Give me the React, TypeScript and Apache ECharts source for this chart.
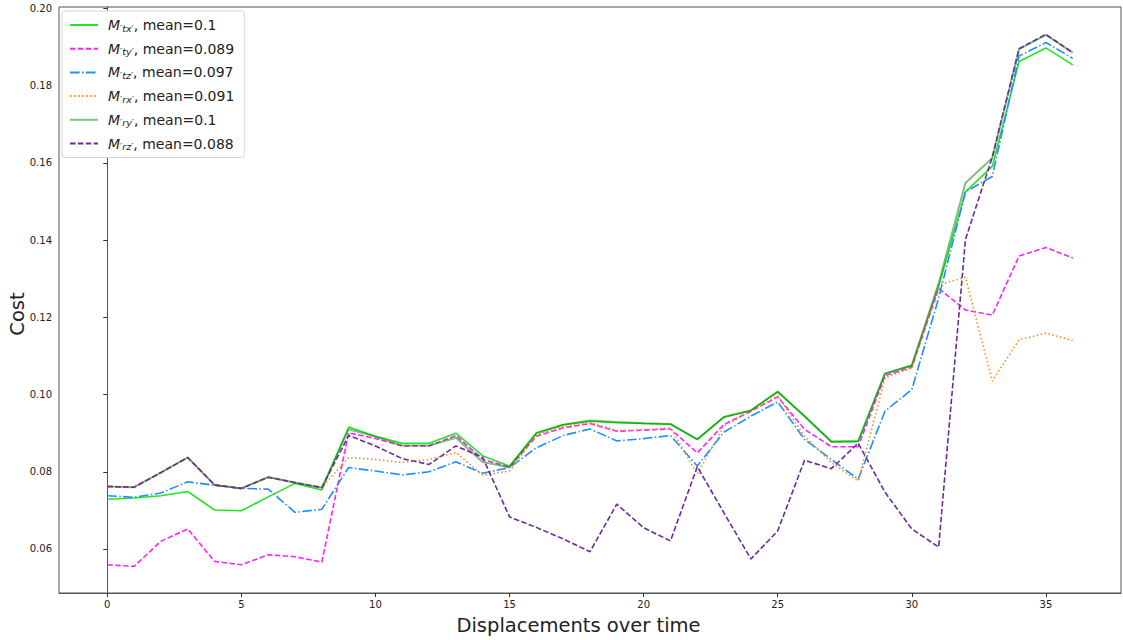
import React, { useEffect, useRef } from "react";
import * as echarts from "echarts";

// Displacement step index
const steps: number[] = Array.from({ length: 37 }, (_, i) => i);

// Cost per displacement for each motion component
const costTx = [0.0729, 0.0732, 0.0738, 0.0749, 0.0701, 0.0699, 0.0735, 0.0770, 0.0753, 0.0916, 0.0892, 0.0874, 0.0874, 0.0900, 0.0841, 0.0815, 0.0901, 0.0922, 0.0931, 0.0927, 0.0925, 0.0923, 0.0884, 0.0942, 0.0959, 0.1007, 0.0944, 0.0878, 0.0878, 0.1054, 0.1075, 0.1280, 0.1525, 0.1591, 0.1863, 0.1898, 0.1854];
const costTy = [0.0559, 0.0555, 0.0620, 0.0652, 0.0568, 0.0559, 0.0585, 0.0580, 0.0566, 0.0901, 0.0886, 0.0867, 0.0867, 0.0894, 0.0832, 0.0812, 0.0892, 0.0914, 0.0925, 0.0905, 0.0908, 0.0911, 0.0849, 0.0923, 0.0957, 0.0994, 0.0910, 0.0865, 0.0865, 0.1049, 0.1071, 0.1275, 0.1219, 0.1206, 0.1359, 0.1381, 0.1354];
const costTz = [0.0738, 0.0734, 0.0745, 0.0774, 0.0765, 0.0757, 0.0755, 0.0695, 0.0703, 0.0811, 0.0802, 0.0792, 0.0800, 0.0826, 0.0796, 0.0811, 0.0862, 0.0894, 0.0911, 0.0880, 0.0886, 0.0894, 0.0815, 0.0903, 0.0944, 0.0981, 0.0884, 0.0832, 0.0781, 0.0957, 0.1013, 0.1250, 0.1525, 0.1565, 0.1877, 0.1912, 0.1871];
const costRx = [0.0762, 0.0760, 0.0798, 0.0837, 0.0766, 0.0757, 0.0786, 0.0772, 0.0759, 0.0837, 0.0832, 0.0824, 0.0832, 0.0850, 0.0791, 0.0802, 0.0894, 0.0917, 0.0928, 0.0907, 0.0908, 0.0914, 0.0794, 0.0919, 0.0957, 0.0997, 0.0892, 0.0824, 0.0776, 0.1043, 0.1069, 0.1284, 0.1304, 0.1035, 0.1142, 0.1159, 0.1140];
const costRy = [0.0762, 0.0760, 0.0798, 0.0837, 0.0766, 0.0757, 0.0786, 0.0772, 0.0759, 0.0910, 0.0891, 0.0868, 0.0868, 0.0888, 0.0825, 0.0812, 0.0899, 0.0922, 0.0933, 0.0929, 0.0926, 0.0924, 0.0884, 0.0942, 0.0959, 0.1008, 0.0944, 0.0878, 0.0880, 0.1055, 0.1076, 0.1288, 0.1548, 0.1613, 0.1895, 0.1932, 0.1886];
const costRz = [0.0762, 0.0760, 0.0798, 0.0837, 0.0766, 0.0757, 0.0786, 0.0772, 0.0759, 0.0894, 0.0867, 0.0834, 0.0819, 0.0867, 0.0837, 0.0683, 0.0656, 0.0626, 0.0593, 0.0716, 0.0655, 0.0621, 0.0813, 0.0693, 0.0574, 0.0647, 0.0830, 0.0808, 0.0874, 0.0747, 0.0652, 0.0605, 0.1402, 0.1615, 0.1896, 0.1933, 0.1886];

// Legend subscripts and stated means
const subscripts = ["′tx′", "′ty′", "′tz′", "′rx′", "′ry′", "′rz′"];
const means = ["0.1", "0.089", "0.097", "0.091", "0.1", "0.088"];

// Tick positions
const xTicks = [0, 5, 10, 15, 20, 25, 30, 35];
const yTicks = [0.06, 0.08, 0.1, 0.12, 0.14, 0.16, 0.18, 0.2];

const FONT = "DejaVu Sans";

export default function App() {
  const ref = useRef<HTMLDivElement>(null);

  useEffect(() => {
    if (!ref.current) return;
    const chart = echarts.init(ref.current, undefined, { renderer: "svg" });

    const styles = [
      { color: "#22e622", type: "solid", width: 1.6, opacity: 1 },
      { color: "#ff22ff", type: [5.5, 2.4], width: 1.6, opacity: 1 },
      { color: "#1e8fff", type: [9.6, 2.4, 1.5, 2.4], width: 1.6, opacity: 1 },
      { color: "#ff8a1c", type: [1.5, 2.5], width: 1.6, opacity: 1 },
      { color: "#008000", type: "solid", width: 2, opacity: 0.5 },
      { color: "#6a2c9a", type: [5.5, 2.4], width: 1.6, opacity: 1 },
    ];
    const dataSets = [costTx, costTy, costTz, costRx, costRy, costRz];

    const series = dataSets.map((vals, i) => ({
      name: subscripts[i],
      type: "line",
      data: steps.map((s, j) => [s, vals[j]]),
      symbol: "none",
      showSymbol: false,
      lineStyle: {
        color: styles[i].color,
        type: styles[i].type as any,
        width: styles[i].width,
        opacity: styles[i].opacity,
      },
      itemStyle: { color: styles[i].color, opacity: styles[i].opacity },
      z: 2 + i,
    }));

    chart.setOption({
      animation: false,
      backgroundColor: "#ffffff",
      grid: {
        left: 59,
        right: 2,
        top: 7,
        bottom: 47,
        containLabel: false,
        outerBoundsMode: "none",
        show: true,
        borderColor: "#555",
        borderWidth: 1,
        backgroundColor: "transparent",
      },
      legend: {
        orient: "vertical",
        left: 62,
        top: 11,
        itemWidth: 28,
        itemHeight: 12,
        itemGap: 8.7,
        padding: [7, 10, 6, 7],
        backgroundColor: "#fff",
        borderColor: "#d6d6d6",
        borderWidth: 1,
        borderRadius: 3,
        itemStyle: { opacity: 0 },
        data: subscripts,
        formatter: (name: string) => {
          const i = subscripts.indexOf(name);
          return `{m|M}{s|${name}}{t|, mean=${means[i]}}`;
        },
        textStyle: {
          fontFamily: FONT,
          fontSize: 14,
          color: "#222",
          rich: {
            m: { fontFamily: FONT, fontSize: 14, fontStyle: "italic", color: "#222", padding: [0, 0, 0, 5] },
            s: { fontFamily: FONT, fontSize: 9.5, fontStyle: "italic", color: "#222", padding: [6, 0, 0, 0] },
            t: { fontFamily: FONT, fontSize: 14, color: "#222" },
          },
        },
      },
      xAxis: {
        type: "value",
        min: -1.8,
        max: 37.8,
        name: "Displacements over time",
        nameLocation: "middle",
        nameGap: 22,
        nameMoveOverlap: false,
        nameTextStyle: { fontFamily: FONT, fontSize: 19.5, color: "#222", padding: [0, 23, 0, 0] },
        axisLine: { show: true, lineStyle: { color: "#555" } },
        axisTick: { show: true, length: 4, lineStyle: { color: "#333" }, customValues: xTicks },
        axisLabel: {
          fontFamily: FONT,
          fontSize: 10,
          color: "#222",
          margin: 6,
          customValues: xTicks,
          formatter: (v: number) => String(v),
        },
        splitLine: { show: false },
      },
      yAxis: {
        type: "value",
        min: 0.0486,
        max: 0.2004,
        name: "Cost",
        nameLocation: "middle",
        nameGap: 32,
        nameMoveOverlap: false,
        nameRotate: 90,
        nameTextStyle: {
          fontFamily: FONT,
          fontSize: 19.5,
          color: "#222",
          padding: [0, 28, 0, 0],
        },
        axisLine: { show: true, lineStyle: { color: "#555" } },
        axisTick: { show: true, length: 4, lineStyle: { color: "#333" }, customValues: yTicks },
        axisLabel: {
          fontFamily: FONT,
          fontSize: 10,
          color: "#222",
          margin: 7,
          customValues: yTicks,
          formatter: (v: number) => v.toFixed(2),
        },
        splitLine: { show: false },
      },
      series,
    } as any);

    return () => chart.dispose();
  }, []);

  return <div ref={ref} style={{ width: 1123, height: 640, position: "absolute", left: 0, top: 0 }} />;
}
